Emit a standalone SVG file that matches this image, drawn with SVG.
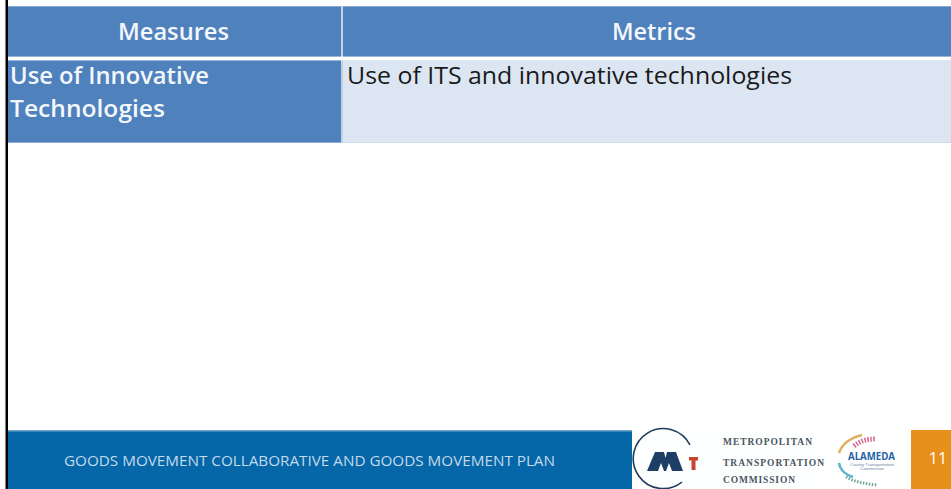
<svg xmlns="http://www.w3.org/2000/svg" width="951" height="489" viewBox="0 0 951 489">
<style>
text{font-family:"Open Sans","Liberation Sans",Arial,sans-serif}
.h{font-size:23px;font-weight:600;fill:#f3f7fb}
.m{font-size:23.5px;font-weight:600;fill:#f3f7fb}
.b{font-size:23.5px;fill:#1a1a1a}
.f{font-size:15px;fill:#c4d9ea}
.l{font-family:"Liberation Serif",serif;font-size:9.5px;font-weight:bold;fill:#4a5560}
.s{font-family:"Liberation Sans",sans-serif;font-size:3.800px;fill:#6a86a6}
</style>
<rect width="951" height="489" fill="#fff"/>
<rect x="5.500" y="0" width="2.500" height="489" fill="#000"/>
<g id="table">
<rect x="8" y="6" width="943" height="137" fill="#c3d3e6"/>
<rect x="8" y="56.5" width="943" height="4" fill="#fff"/>
<rect x="8" y="6.5" width="333" height="50" fill="#4f81bd"/>
<rect x="343" y="6.5" width="608" height="50" fill="#4f81bd"/>
<rect x="8" y="60.5" width="333" height="82" fill="#4f81bd"/>
<rect x="343" y="60.5" width="608" height="82" fill="#dce6f2"/>
<text class="h" x="118" y="40" textLength="111" lengthAdjust="spacingAndGlyphs">Measures</text>
<text class="h" x="612" y="40" textLength="84" lengthAdjust="spacingAndGlyphs">Metrics</text>
<text class="m" x="10" y="84" textLength="199" lengthAdjust="spacingAndGlyphs">Use of Innovative</text>
<text class="m" x="10" y="117" textLength="155" lengthAdjust="spacingAndGlyphs">Technologies</text>
<text class="b" x="347" y="84" textLength="445" lengthAdjust="spacingAndGlyphs">Use of ITS and innovative technologies</text>
</g>
<g id="footer">
<rect x="8" y="430" width="943" height="59" fill="#0567a8"/>
<rect x="8" y="430" width="943" height="1.5" fill="#6ea6c8"/>
<text class="f" x="64" y="466" textLength="491" lengthAdjust="spacingAndGlyphs">GOODS MOVEMENT COLLABORATIVE AND GOODS MOVEMENT PLAN</text>
</g>
<g id="logo">
<rect x="632" y="428" width="194" height="61" fill="#fdfefe"/>
<rect x="826" y="430" width="85" height="59" fill="#fff"/>
<path d="M690 445A30 30 0 1 0 682 482" fill="none" stroke="#1f3a5a" stroke-width="1.6"/>
<path d="M647 471L655 452H664L665.500 458L667 452H676L683 471H672L669 463L666 471H664L661 463L658 471Z" fill="#1d3f66"/>
<path d="M689 457H698V460.500H695.500V470H691.500V460.500H689Z" fill="#c8432f"/>
<text class="l" x="723" y="445" textLength="89" lengthAdjust="spacing">METROPOLITAN</text>
<text class="l" x="723" y="465.500" textLength="101" lengthAdjust="spacing">TRANSPORTATION</text>
<text class="l" x="723" y="483" textLength="72" lengthAdjust="spacing">COMMISSION</text>
<path d="M839 453C842 444 850 438 862 435" fill="none" stroke="#e3b060" stroke-width="2.500"/>
<path d="M854 446C860 441 866 439 876 439" fill="none" stroke="#d9668a" stroke-width="5" stroke-dasharray="1.500 1.500"/>
<path d="M839 463C840 470 846 475 853 477" fill="none" stroke="#5fb4cf" stroke-width="2.500"/>
<path d="M846 477C855 482 866 484 877 485" fill="none" stroke="#6fa78f" stroke-width="3" stroke-dasharray="1.500 1.500"/>
<text x="848" y="460" font-family="Liberation Sans" font-size="10" font-weight="bold" fill="#1f5fa6" textLength="47" lengthAdjust="spacingAndGlyphs">ALAMEDA</text>
<text class="s" x="850" y="465.500" textLength="44" lengthAdjust="spacingAndGlyphs">County Transportation</text>
<text class="s" x="860" y="470" textLength="24" lengthAdjust="spacingAndGlyphs">Commission</text>
</g>
<g id="page">
<rect x="911" y="430" width="40" height="59" fill="#e68f1a"/>
<text x="938" y="464" font-size="16" fill="#fff" text-anchor="middle">11</text>
</g>
</svg>
